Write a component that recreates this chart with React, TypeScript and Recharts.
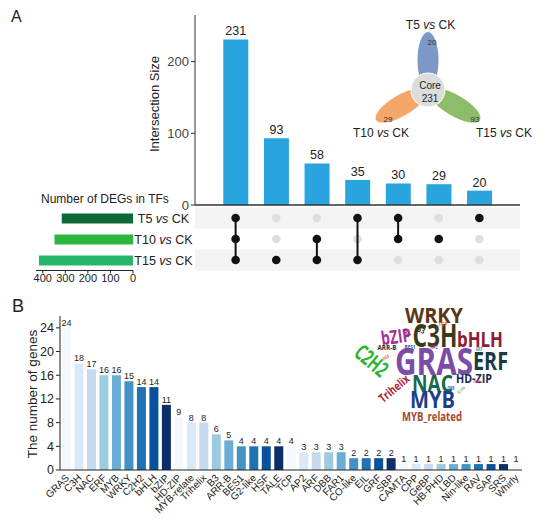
import React from "react";
import { BarChart, Bar, XAxis, YAxis, LabelList, Cell, ScatterChart, Scatter, ReferenceArea } from "recharts";

// panel A: upset data
const intersectionSizes = [231, 93, 58, 35, 30, 29, 20];
const intersectionMembers = [
  [1, 2, 3],
  [3],
  [2, 3],
  [1, 3],
  [1, 2],
  [2],
  [1],
];
const setLabels = ["T5 vs CK", "T10 vs CK", "T15 vs CK"];
const setSizes = [316, 348, 417];
const setColors = ["#0b6a37", "#2cb63f", "#26b36c"];
const setSizeTicks = [0, 100, 200, 300, 400];

// venn petals (unique to each set) + core
const petalValues = [20, 29, 93];
const coreValue = 231;

// panel B: TF families
const tfFamilies = [
  "GRAS", "C3H", "NAC", "ERF", "MYB", "WRKY", "C2H2", "bHLH", "bZIP", "HD-ZIP",
  "MYB-relate", "Trihelix", "B3", "ARR-B", "BES1", "G2-like", "HSF", "TALE", "TCP",
  "AP2", "ARF", "DBB", "FAR1", "CO-like", "EIL", "GRF", "SBP", "CAMTA", "CPP",
  "GeBP", "HB-PHD", "LBD", "Nin-like", "RAV", "SAP", "SRS", "Whirly",
];
const tfCounts = [
  24, 18, 17, 16, 16, 15, 14, 14, 11, 9,
  8, 8, 6, 5, 4, 4, 4, 4, 4,
  3, 3, 3, 3, 2, 2, 2, 2, 1, 1,
  1, 1, 1, 1, 1, 1, 1, 1,
];
const blues = ["#f5f9fe", "#dbe9f6", "#c4daee", "#9dc9e1", "#6aaed6", "#4292c6", "#2171b5", "#0a519c", "#0c2f6a"];
const geneTicks = [0, 4, 8, 12, 16, 20, 24];

// word cloud: text, cx, cy, font size, width, rotation, colour
const cloudWords: [string, number, number, number, number, number, string][] = [
  ["WRKY", 434, 315, 22, 58, 0, "#5b3617"],
  ["C3H", 435, 335, 33, 45, 0, "#3a3a1a"],
  ["bHLH", 480, 339.5, 21, 46, 0, "#8c1b33"],
  ["bZIP", 396, 336.5, 19, 30, -8, "#a3329a"],
  ["C2H2", 371.5, 360.5, 22, 36, 40, "#2fb432"],
  ["GRAS", 434, 361.5, 37, 78, 0, "#7d4ca7"],
  ["ERF", 490.5, 361, 25, 35, 0, "#173a45"],
  ["NAC", 432.5, 383.5, 24, 41, 0, "#17694a"],
  ["HD-ZIP", 474, 379, 11.5, 36, 0, "#1e2a55"],
  ["MYB", 432.5, 400, 23, 45, 0, "#1c3e8b"],
  ["MYB_related", 432, 416.5, 11.5, 60, 0, "#a8472a"],
  ["Trihelix", 394, 388.5, 12, 36, -40, "#b02339"],
  ["ARR-B", 387, 347.5, 7.5, 19, 0, "#2d2d3f"],
  ["TALE", 407, 333, 5, 9, 45, "#8c1b33"],
  ["B3", 421, 330, 8, 8, 20, "#3a3a1a"],
  ["TCP", 443, 324, 5.5, 9, 0, "#e0672e"],
  ["BES1", 410, 347, 5.5, 11, 0, "#2f4fa0"],
  ["AP2", 434, 347, 5, 7, 0, "#a3329a"],
  ["HSF", 386, 357.5, 5, 7, -30, "#e0672e"],
  ["ARF", 479, 349, 4.5, 7, 0, "#4d7fc0"],
  ["FAR1", 477, 382, 4, 7, 0, "#d04a7a"],
  ["DBB", 451, 388, 4.5, 7, 0, "#3070c0"],
  ["G2_like", 461, 390, 4, 9, -40, "#6a9a4a"],
];

const FONT = "'Liberation Sans', Arial, sans-serif";

const intersectionData = intersectionSizes.map((v, i) => ({ name: `I${i + 1}`, size: v }));
const setData = setLabels.map((s, i) => ({ name: s, size: setSizes[i] }));
const tfData = tfFamilies.map((f, i) => ({ family: f, genes: tfCounts[i] }));

const inactiveDots: { x: number; y: number }[] = [];
intersectionMembers.forEach((m, i) => {
  [1, 2, 3].forEach((r) => {
    if (!m.includes(r)) inactiveDots.push({ x: i + 1, y: r });
  });
});

const dot = (fill: string) => (p: any) => <circle cx={p.cx} cy={p.cy} r={4.3} fill={fill} />;

const SetTick = (props: any) => {
  const { x, y, payload } = props;
  const [a, b] = String(payload.value).split(" vs ");
  return (
    <text x={x + 30.5} y={y} dy={4.5} textAnchor="middle" fontSize={12.5} fill="#222" fontFamily={FONT}>
      {a} <tspan fontStyle="italic">vs</tspan> {b}
    </text>
  );
};

const FamilyTick = (props: any) => {
  const { x, y, payload } = props;
  return (
    <g transform={`translate(${x + 1},${y + 1}) rotate(-45)`}>
      <text x={0} y={0} dy="0.35em" textAnchor="end" fontSize={10} fill="#222" fontFamily={FONT}>
        {payload.value}
      </text>
    </g>
  );
};

function Venn() {
  const cx = 428;
  const cy = 90;
  const petals = [
    { angle: -90, dist: 30, rx: 28, color: "#7b98c8", label: setLabels[0], v: petalValues[0] },
    { angle: 150, dist: 31, rx: 29, color: "#f4a767", label: setLabels[1], v: petalValues[1] },
    { angle: 30, dist: 31, rx: 29, color: "#8dbd6a", label: setLabels[2], v: petalValues[2] },
  ];
  const labelPos = [
    [430.5, 25],
    [381, 132.5],
    [504, 132.5],
  ];
  const numPos = [
    [432, 42.5],
    [388, 119.5],
    [475, 119.5],
  ];
  return (
    <g fontFamily={FONT}>
      {petals.map((p, i) => {
        const a = (p.angle * Math.PI) / 180;
        const px = cx + p.dist * Math.cos(a);
        const py = cy + p.dist * Math.sin(a);
        return (
          <ellipse key={i} cx={px} cy={py} rx={p.rx} ry={10.5} fill={p.color} transform={`rotate(${p.angle}, ${px}, ${py})`} />
        );
      })}
      <circle cx={cx} cy={cy} r={17} fill="#dcdcdc" stroke="#fff" strokeWidth={1} />
      <text x={cx + 2} y={85.5} dy="0.35em" textAnchor="middle" fontSize={10} fill="#222">Core</text>
      <text x={cx + 2} y={98.5} dy="0.35em" textAnchor="middle" fontSize={10} fill="#222">{coreValue}</text>
      {petals.map((p, i) => {
        const [a, b] = p.label.split(" vs ");
        return (
          <g key={i}>
            <text x={numPos[i][0]} y={numPos[i][1]} dy="0.35em" textAnchor="middle" fontSize={8} fill="#333">{p.v}</text>
            <text x={labelPos[i][0]} y={labelPos[i][1]} dy="0.35em" textAnchor="middle" fontSize={12} fill="#222">
              {a} <tspan fontStyle="italic">vs</tspan> {b}
            </text>
          </g>
        );
      })}
    </g>
  );
}

function WordCloud() {
  return (
    <g fontFamily="'Open Sans', 'DejaVu Sans', sans-serif" fontWeight={700}>
      {cloudWords.map(([t, x, y, fs, w, rot, c]) => (
        <text
          key={t}
          x={x}
          y={y}
          dy="0.36em"
          textAnchor="middle"
          fontSize={fs}
          fill={c}
          textLength={w}
          lengthAdjust="spacingAndGlyphs"
          transform={rot ? `rotate(${rot}, ${x}, ${y})` : undefined}
        >
          {t}
        </text>
      ))}
    </g>
  );
}

export default function App() {
  return (
    <div style={{ position: "absolute", left: 0, top: 0, width: 550, height: 520, background: "#fff", fontFamily: FONT }}>
      {/* titles, venn, word cloud (under the charts) */}
      <svg width={550} height={520} style={{ position: "absolute", left: 0, top: 0 }}>
        <text x={11} y={22} fontSize={16} fill="#222" fontFamily={FONT}>A</text>
        <text x={12} y={312} fontSize={18} fill="#222" fontFamily={FONT}>B</text>
        <text
          x={154}
          y={104}
          dy="0.35em"
          textAnchor="middle"
          fontSize={13}
          fill="#222"
          fontFamily={FONT}
          transform="rotate(-90, 154, 104)"
        >
          Intersection Size
        </text>
        <text x={41} y={203} fontSize={12} fill="#222" fontFamily={FONT}>Number of DEGs in TFs</text>
        <text
          x={32}
          y={394}
          dy="0.35em"
          textAnchor="middle"
          fontSize={13.5}
          fill="#222"
          fontFamily={FONT}
          transform="rotate(-90, 32, 394)"
        >
          The number of genes
        </text>
        <Venn />
        <WordCloud />
      </svg>

      {/* intersection sizes */}
      <div style={{ position: "absolute", left: 100, top: 0 }}>
        <BarChart width={425} height={215} data={intersectionData} margin={{ top: 15, right: 5, bottom: 9, left: 0 }}>
          <XAxis
            dataKey="name"
            tick={false}
            tickLine={false}
            height={1}
            padding={{ left: 20.3, right: 20.3 }}
            axisLine={{ stroke: "#333", strokeWidth: 1.5 }}
          />
          <YAxis
            width={95}
            domain={[0, 265]}
            ticks={[0, 100, 200]}
            tickSize={4}
            tick={{ fontSize: 13, fill: "#444", fontFamily: FONT }}
            axisLine={{ stroke: "#333" }}
            tickLine={{ stroke: "#333" }}
          />
          <Bar dataKey="size" fill="#29a4de" barSize={25} isAnimationActive={false}>
            <LabelList dataKey="size" position="top" offset={4} fontSize={12.5} fill="#222" fontFamily={FONT} />
          </Bar>
        </BarChart>
      </div>

      {/* membership matrix */}
      <div style={{ position: "absolute", left: 100, top: 200 }}>
        <ScatterChart width={425} height={80} margin={{ top: 7.5, right: 5, bottom: 9.5, left: 95 }}>
          <XAxis type="number" dataKey="x" domain={[0, 8]} hide />
          <YAxis type="number" dataKey="y" domain={[0.5, 3.5]} reversed hide />
          <ReferenceArea x1={0} x2={8} y1={0.5} y2={1.5} fill="#f3f3f3" fillOpacity={1} stroke="none" />
          <ReferenceArea x1={0} x2={8} y1={2.5} y2={3.5} fill="#f3f3f3" fillOpacity={1} stroke="none" />
          <Scatter data={inactiveDots} shape={dot("#dedede")} isAnimationActive={false} />
          {intersectionMembers.map((m, i) => (
            <Scatter
              key={i}
              data={m.map((r) => ({ x: i + 1, y: r }))}
              line={{ stroke: "#111", strokeWidth: 2 }}
              shape={dot("#111")}
              isAnimationActive={false}
            />
          ))}
        </ScatterChart>
      </div>

      {/* set sizes */}
      <div style={{ position: "absolute", left: 0, top: 200 }}>
        <BarChart width={200} height={90} layout="vertical" data={setData} margin={{ top: 7.5, right: 0, bottom: 4.5, left: 36 }}>
          <XAxis
            type="number"
            domain={[0, 430]}
            ticks={setSizeTicks}
            reversed
            height={15}
            tickSize={3}
            tickMargin={1}
            tick={{ fontSize: 11, fill: "#222", fontFamily: FONT }}
            axisLine={{ stroke: "#222" }}
            tickLine={{ stroke: "#222" }}
          />
          <YAxis
            type="category"
            dataKey="name"
            orientation="right"
            width={67}
            interval={0}
            axisLine={false}
            tickLine={false}
            tickSize={0}
            tickMargin={0}
            tick={<SetTick />}
          />
          <Bar dataKey="size" barSize={10} isAnimationActive={false}>
            {setData.map((d, i) => (
              <Cell key={d.name} fill={setColors[i]} />
            ))}
          </Bar>
        </BarChart>
      </div>

      {/* panel B */}
      <div style={{ position: "absolute", left: 0, top: 300, width: 530, height: 220 }}>
        <BarChart width={530} height={220} data={tfData} margin={{ top: 16, right: 8, bottom: 0, left: 0 }}>
          <YAxis
            yAxisId="genes"
            orientation="left"
            width={60}
            domain={[0, 26]}
            ticks={geneTicks}
            tickSize={4}
            tick={{ fontSize: 12.5, fill: "#222", fontFamily: FONT }}
            axisLine={{ stroke: "#222" }}
            tickLine={{ stroke: "#222" }}
          />
          <XAxis
            dataKey="family"
            interval={0}
            height={50}
            tickSize={3}
            tickLine={false}
            axisLine={{ stroke: "#222" }}
            tick={<FamilyTick />}
          />
          <Bar yAxisId="genes" dataKey="genes" barSize={9} isAnimationActive={false}>
            {tfData.map((d, i) => (
              <Cell key={d.family} fill={blues[i % blues.length]} />
            ))}
            <LabelList dataKey="genes" position="top" offset={2} fontSize={9} fill="#222" fontFamily={FONT} />
          </Bar>
        </BarChart>
      </div>
    </div>
  );
}
